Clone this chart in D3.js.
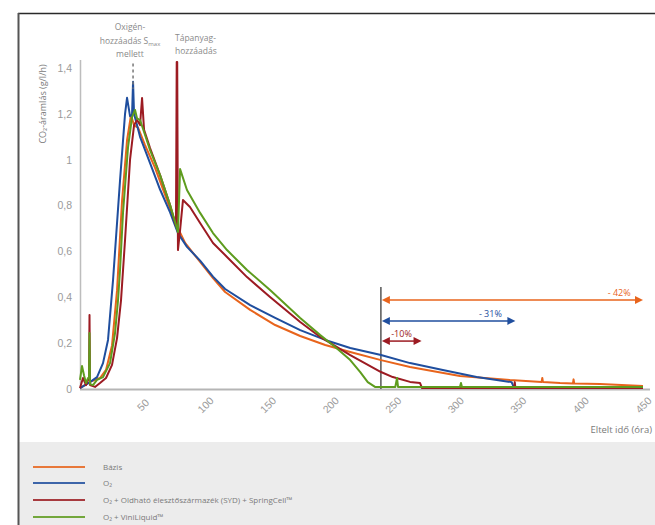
<!DOCTYPE html>
<html><head><meta charset="utf-8">
<script src="https://cdn.jsdelivr.net/npm/d3@7"></script>
<style>
html,body{margin:0;padding:0;background:#fff;overflow:hidden;}
svg{display:block;font-family:"Open Sans",sans-serif;}
</style></head>
<body>
<svg id="c" width="655" height="525"></svg>
<script>
// ---- data (hour, CO2 flow g/l/h) ----
const seriesNames = ["Bázis", "O₂", "O₂ + Oldható élesztőszármazék (SYD) + SpringCell™", "O₂ + ViniLiquid™"];
const seriesColors = ["#e8641c", "#1f4e9e", "#9c1b22", "#5e9c1e"];

const bazis = [[0,0.004],[4.8,0.02],[9.6,0.035],[16,0.048],[20.8,0.083],[25.6,0.19],[29.6,0.43],[33.6,0.82],[37.6,1.085],[40.8,1.195],[43.2,1.15],[46.4,1.14],[52,1.064],[60,0.964],[68,0.846],[76,0.728],[84,0.637],[96,0.554],[106.3,0.484],[116,0.423],[136,0.345],[156,0.279],[176,0.231],[196,0.192],[216,0.161],[240.6,0.126],[263.8,0.096],[303.7,0.057],[343.7,0.039],[369,0.031],[369.5,0.048],[370,0.031],[383.7,0.026],[394,0.024],[394.5,0.042],[395,0.024],[415.6,0.022],[450,0.013]];

const o2 = [[0,0.004],[4,0.017],[8,0.03],[13.6,0.052],[18.4,0.113],[22.4,0.214],[26.4,0.475],[32,0.91],[36,1.2],[37.6,1.27],[40,1.19],[41.6,1.195],[42.4,1.34],[43.2,1.2],[48,1.1],[56,0.985],[64,0.87],[72,0.77],[78.3,0.68],[85.5,0.62],[96,0.56],[106.3,0.49],[116,0.436],[136,0.366],[156,0.31],[176,0.257],[196,0.214],[216,0.179],[240.6,0.148],[263.8,0.113],[290,0.083],[317,0.052],[345,0.03],[347,0.004],[450,0.004]];

const syd = [[0,0.004],[2.4,0.048],[4.8,0.017],[6.4,0.04],[7.2,0.04],[7.6,0.323],[8,0.017],[12,0.009],[16,0.026],[20.8,0.048],[25.6,0.105],[29.6,0.222],[32.8,0.388],[36,0.65],[40,1.0],[43.2,1.15],[45.6,1.173],[48,1.151],[49.6,1.269],[51.2,1.13],[56,1.051],[64,0.933],[72,0.802],[76.7,0.711],[77.3,1.426],[77.7,1.426],[78.3,0.606],[80,0.693],[82.3,0.824],[84.7,0.811],[87.9,0.794],[96,0.724],[106.3,0.637],[117.5,0.576],[133.5,0.488],[151.9,0.401],[176,0.292],[192,0.227],[216,0.148],[240.6,0.074],[250,0.052],[263.8,0.031],[271.8,0.026],[273.4,0.004],[347,0.004],[347.5,0.03],[348,0.004],[450,0.004]];

const vini = [[0,0.04],[1.6,0.1],[3.2,0.06],[4.8,0.026],[6.4,0.048],[7.2,0.048],[7.6,0.244],[8,0.022],[10.4,0.017],[13.6,0.04],[18.4,0.052],[24,0.113],[28,0.244],[30.4,0.388],[32,0.52],[34.4,0.77],[38.4,1.055],[41.6,1.186],[44,1.217],[45.6,1.18],[48,1.173],[52,1.108],[56,1.042],[64,0.933],[72,0.802],[76.7,0.715],[78.3,0.685],[80,0.959],[85.5,0.868],[96,0.768],[106.3,0.68],[117.5,0.606],[133.5,0.519],[151.9,0.432],[176,0.31],[192,0.235],[204,0.183],[216,0.126],[224,0.074],[230,0.03],[235.8,0.009],[252,0.009],[253.4,0.048],[254.2,0.009],[303.7,0.009],[304.5,0.026],[305.3,0.009],[450,0.009]];

const allSeries = [bazis, o2, syd, vini];
const drawOrder = [0, 1, 2, 3];

const yTicks = [0, 0.2, 0.4, 0.6, 0.8, 1, 1.2, 1.4];
const xTicks = [50, 100, 150, 200, 250, 300, 350, 400, 450];

const refHour = 240.5, refTop = 0.445;
const arrowEnds = [450, 348, 273];
const arrowVals = [0.388, 0.297, 0.209];
const arrowLabels = ["- 42%", "- 31%", "-10%"];
const arrowLabelHours = [431, 328, 257];
const arrowColors = ["#e8641c", "#1f4e9e", "#9c1b22"];

const oxyHour = 42.4;
const oxyText = ["Oxigén-", "hozzáadás S", "mellett"];
const nutText = ["Tápanyag-", "hozzáadás"];

// ---- drawing ----
const svg = d3.select("#c");
const x = d3.scaleLinear().domain([0, 450]).range([80, 643]);
const y = d3.scaleLinear().domain([0, 1.4]).range([389, 68]);
const grey = "#8a8a8a";

// frame and legend background
svg.append("rect").attr("x", 19).attr("y", 442).attr("width", 636).attr("height", 83).attr("fill", "#ececec");
svg.append("line").attr("x1", 18).attr("x2", 655).attr("y1", 13.5).attr("y2", 13.5).attr("stroke", "#2a2a2a").attr("stroke-width", 1.5);
svg.append("line").attr("x1", 18.5).attr("x2", 18.5).attr("y1", 13).attr("y2", 525).attr("stroke", "#555").attr("stroke-width", 2);

// y axis
const yAxis = d3.axisLeft(y).tickValues(yTicks).tickSize(0).tickPadding(8)
  .tickFormat(d => d3.format("~g")(d).replace(".", ","));
const gy = svg.append("g").attr("transform", "translate(80,0)").call(yAxis);
gy.select(".domain").remove();
gy.selectAll("text").attr("fill", "#9a9a9a").attr("font-size", 10.5);
svg.append("line").attr("x1", 80.5).attr("x2", 80.5).attr("y1", 60).attr("y2", 389).attr("stroke", "#bdbdbd").attr("stroke-width", 1.5);

svg.append("text").attr("transform", "translate(46,104) rotate(-90)").attr("text-anchor", "middle")
  .attr("font-size", 9).attr("fill", "#7a7a7a").text("CO₂-áramlás (g/l/h)");

// x axis
const xAxis = d3.axisBottom(x).tickValues(xTicks).tickSize(0).tickFormat(d3.format("d"));
const gx = svg.append("g").attr("transform", "translate(0,389)").call(xAxis);
gx.select(".domain").remove();
gx.selectAll("text").attr("fill", "#9a9a9a").attr("font-size", 10.5)
  .attr("y", 0).attr("dy", "0.35em").attr("text-anchor", "middle")
  .attr("transform", "translate(0,16) rotate(-45)");
svg.append("line").attr("x1", 80).attr("x2", 650).attr("y1", 389.5).attr("y2", 389.5).attr("stroke", "#b5b5b5").attr("stroke-width", 2);
svg.append("text").attr("x", 652).attr("y", 433).attr("text-anchor", "end").attr("font-size", 9.5).attr("fill", "#7a7a7a").text("Eltelt idő (óra)");

// reference line and arrows
svg.append("line").attr("x1", x(refHour)).attr("x2", x(refHour)).attr("y1", y(refTop)).attr("y2", y(0))
  .attr("stroke", "#555").attr("stroke-width", 1.5);

// series
const line = d3.line().x(d => x(d[0])).y(d => y(d[1]));
drawOrder.forEach(i => {
  svg.append("path").datum(allSeries[i]).attr("d", line).attr("fill", "none")
    .attr("stroke", seriesColors[i]).attr("stroke-width", 2).attr("stroke-linejoin", "round");
});

// oxygen dashed marker
svg.append("line").attr("x1", x(oxyHour)).attr("x2", x(oxyHour)).attr("y1", y(1.42)).attr("y2", y(1.31))
  .attr("stroke", "#777").attr("stroke-width", 1.5).attr("stroke-dasharray", "3,3");

arrowEnds.forEach((e, i) => {
  const x0 = x(refHour) + 1, x1 = x(e), yy = y(arrowVals[i]), c = arrowColors[i];
  svg.append("line").attr("x1", x0 + 5).attr("x2", x1 - 5).attr("y1", yy).attr("y2", yy).attr("stroke", c).attr("stroke-width", 1.5);
  svg.append("path").attr("d", `M${x0},${yy}L${x0 + 8},${yy - 4}L${x0 + 8},${yy + 4}Z`).attr("fill", c);
  svg.append("path").attr("d", `M${x1},${yy}L${x1 - 8},${yy - 4}L${x1 - 8},${yy + 4}Z`).attr("fill", c);
  svg.append("text").attr("x", x(arrowLabelHours[i])).attr("y", yy - 4).attr("text-anchor", "middle")
    .attr("font-size", 9).attr("fill", c).text(arrowLabels[i]);
});

// annotations
const oxy = svg.append("text").attr("text-anchor", "middle").attr("font-size", 8.5).attr("fill", grey);
oxy.append("tspan").attr("x", 130).attr("y", 30).text(oxyText[0]);
const t2 = oxy.append("tspan").attr("x", 130).attr("y", 44).text(oxyText[1]);
t2.append("tspan").attr("font-size", 6).attr("dy", 1.5).text("max");
oxy.append("tspan").attr("x", 130).attr("y", 57).text(oxyText[2]);

const nut = svg.append("text").attr("font-size", 8.5).attr("fill", grey);
nut.append("tspan").attr("x", 175).attr("y", 41).text(nutText[0]);
nut.append("tspan").attr("x", 175).attr("y", 54).text(nutText[1]);

// legend
const legY = [467, 483, 500, 517];
seriesNames.forEach((n, i) => {
  svg.append("line").attr("x1", 33).attr("x2", 85).attr("y1", legY[i]).attr("y2", legY[i])
    .attr("stroke", seriesColors[i]).attr("stroke-width", 2).attr("opacity", 0.85);
  svg.append("text").attr("x", 103).attr("y", legY[i] + 3).attr("font-size", 8).attr("fill", "#7a7a7a").text(n);
});
</script>
</body></html>
